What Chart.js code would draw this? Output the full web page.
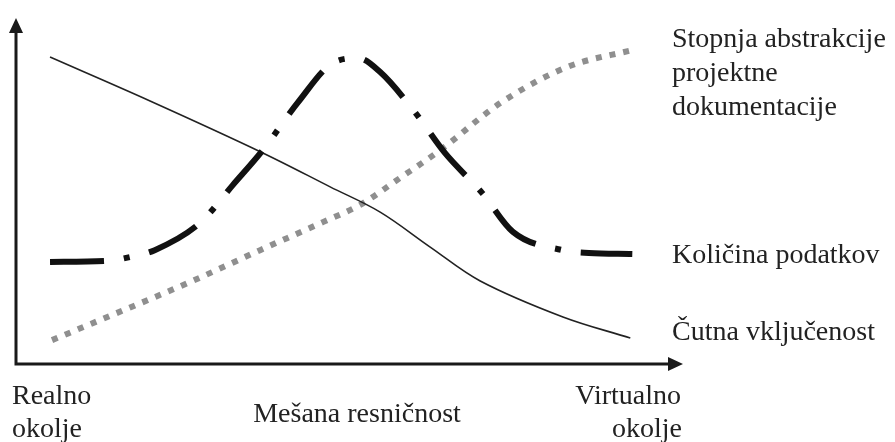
<!DOCTYPE html>
<html>
<head>
<meta charset="utf-8">
<script src="https://cdn.jsdelivr.net/npm/chart.js@4.4.1/dist/chart.umd.min.js"></script>
<style>
  body { margin: 0; background: #fff; }
  #wrap { width: 895px; height: 442px; }
</style>
</head>
<body>
<div id="wrap"><canvas id="graf" width="895" height="442"></canvas></div>
<script>
// os x: od realnega (0) do virtualnega okolja (100), os y: 0..100
const xCutna = [5.1, 20.1, 37.0, 47.1, 54.6, 62.1, 69.6, 82.0, 92.1];
const yCutna = [88.7, 76.0, 61.0, 51.2, 43.9, 33.8, 24.0, 13.6, 7.5];

const xKolicina = [5.1, 13.6, 17.1, 20.8, 27.6, 32.5, 37.0, 42.3, 47.5, 51.3, 54.6, 59.8, 64.3, 69.9, 74.5, 82.0, 85.9, 92.4];
const yKolicina = [29.5, 29.8, 30.9, 32.9, 40.8, 51.7, 61.8, 75.7, 87.0, 88.4, 84.4, 72.8, 61.0, 49.4, 38.2, 32.9, 32.1, 31.8];

const xAbstrakcija = [5.4, 12.6, 26.1, 36.6, 46.0, 51.6, 57.6, 63.6, 72.6, 82.6, 92.5];
const yAbstrakcija = [6.9, 12.7, 23.7, 32.9, 41.0, 46.0, 53.8, 61.8, 75.4, 85.8, 90.8];

const oznakeDesno = [
  ["Stopnja abstrakcije", "projektne", "dokumentacije"],
  ["Količina podatkov"],
  ["Čutna vključenost"]
];
const oznakeSpodaj = [["Realno", "okolje"], ["Mešana resničnost"], ["Virtualno", "okolje"]];

const tocke = (xs, ys) => xs.map((x, i) => ({ x: x, y: ys[i] }));

const PISAVA = '28px "Liberation Serif", "Times New Roman", serif';

// osi s puščicami in besedila
const osiInBesedila = {
  id: "osiInBesedila",
  afterDraw(chart) {
    const c = chart.ctx;
    const a = chart.chartArea;
    c.save();
    c.strokeStyle = "#1a1a1a";
    c.fillStyle = "#1a1a1a";
    c.lineWidth = 3;
    c.beginPath();
    c.moveTo(a.left, a.bottom);
    c.lineTo(a.left, a.top + 12);
    c.moveTo(a.left - 1.5, a.bottom);
    c.lineTo(a.right - 12, a.bottom);
    c.stroke();
    // puščica gor
    c.beginPath();
    c.moveTo(a.left, a.top);
    c.lineTo(a.left - 7, a.top + 15);
    c.lineTo(a.left + 7, a.top + 15);
    c.closePath();
    c.fill();
    // puščica desno
    c.beginPath();
    c.moveTo(a.right, a.bottom);
    c.lineTo(a.right - 15, a.bottom - 7);
    c.lineTo(a.right - 15, a.bottom + 7);
    c.closePath();
    c.fill();

    c.font = PISAVA;
    c.fillStyle = "#222";
    c.textBaseline = "alphabetic";
    c.textAlign = "left";
    const xd = 672;
    [47, 81, 115].forEach((y, i) => c.fillText(oznakeDesno[0][i], xd, y));
    c.fillText(oznakeDesno[1][0], xd, 263);
    c.fillText(oznakeDesno[2][0], xd, 340);

    c.fillText(oznakeSpodaj[0][0], 12, 404);
    c.fillText(oznakeSpodaj[0][1], 12, 437);
    c.textAlign = "center";
    c.fillText(oznakeSpodaj[1][0], 357, 422);
    c.textAlign = "right";
    c.fillText(oznakeSpodaj[2][0], 681, 404);
    c.fillText(oznakeSpodaj[2][1], 682, 437);
    c.restore();
  }
};

const ctx = document.querySelector("#graf").getContext("2d");

new Chart(ctx, {
  type: "line",
  data: {
    datasets: [
      {
        label: "Količina podatkov",
        data: tocke(xKolicina, yKolicina),
        borderColor: "#111",
        borderWidth: 6,
        borderDash: [54, 20, 6, 20],
        borderCapStyle: "butt",
        cubicInterpolationMode: "monotone",
        pointRadius: 0,
        order: 0
      },
      {
        label: "Čutna vključenost",
        data: tocke(xCutna, yCutna),
        borderColor: "#222",
        borderWidth: 1.6,
        tension: 0.35,
        pointRadius: 0,
        order: 1
      },
      {
        label: "Stopnja abstrakcije projektne dokumentacije",
        data: tocke(xAbstrakcija, yAbstrakcija),
        borderColor: "#8f8f8f",
        borderWidth: 6,
        borderDash: [6, 8],
        borderCapStyle: "butt",
        cubicInterpolationMode: "monotone",
        pointRadius: 0,
        order: 2
      }
    ]
  },
  options: {
    responsive: false,
    animation: false,
    layout: { padding: { left: 16, right: 212, top: 18, bottom: 78 } },
    scales: {
      x: { type: "linear", min: 0, max: 100, display: false },
      y: { min: 0, max: 100, display: false }
    },
    plugins: { legend: { display: false }, tooltip: { enabled: false } }
  },
  plugins: [osiInBesedila]
});
</script>
</body>
</html>
